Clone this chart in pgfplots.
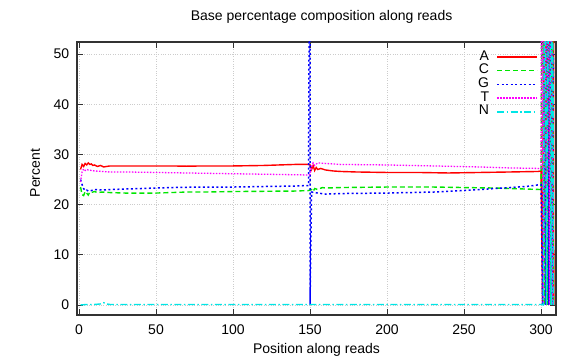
\documentclass[border=0pt]{standalone}
\usepackage{pgfplots}
\pgfplotsset{compat=1.18}
\usepackage{fontspec}
\setmainfont{Liberation Sans}
\definecolor{cA}{RGB}{255,0,0}
\definecolor{cC}{RGB}{0,230,0}
\definecolor{cG}{RGB}{0,0,255}
\definecolor{cT}{RGB}{255,0,255}
\definecolor{cN}{RGB}{0,230,230}
\begin{document}
\fontsize{14bp}{16bp}\selectfont
\begin{tikzpicture}
\useasboundingbox (-77bp,-45bp) rectangle (499bp,315bp);
\begin{axis}[
  at={(0,0)}, anchor=south west,
  scale only axis, width=479bp, height=273bp,
  xmin=-1.3, xmax=309.7, ymin=-2, ymax=52.4,
  xtick={0,50,...,300}, ytick={0,10,...,50},
  /pgf/number format/assume math mode=true,
  tick align=inside, major tick length=6bp,
  tick style={black!80, line width=0.8bp},
  axis line style={black!80, line width=1.2bp},
  grid=major, major grid style={gray!40, dotted, line width=0.6bp},
  xticklabel style={yshift=-5bp},
  yticklabel style={xshift=-3bp},
  title={Base percentage composition along reads},
  title style={at={(axis description cs:0,1)}, anchor=base west, xshift=109bp, yshift=15.7bp},
  xlabel={Position along reads},
  xlabel style={at={(axis description cs:0.5,0)}, anchor=base, yshift=-38bp},
  ylabel={Percent},
  ylabel style={at={(axis description cs:0,0.52)}, anchor=base, yshift=37bp},
  legend plot pos=right,
  legend cell align=right,
  legend style={at={(axis description cs:1,1)}, anchor=north east, xshift=-18bp, yshift=-8bp,
     draw=none, fill=none, inner sep=0pt, row sep=0pt,
     nodes={inner sep=0pt, text height=10bp, text depth=3.7bp}},
  legend image code/.code={\path[draw=none,fill=none] (0bp,0bp); \draw[#1] (8bp,0bp) -- (48bp,0bp);},
]
\addplot[cA, line width=1.4bp] coordinates {
(1,27.0)(2,28.0)(3,27.6)(4,28.2)(5,27.9)(6,28.3)(7,28.0)(8,28.1)(9,27.8)(10,27.9)
(12,27.6)(14,27.8)(16,27.5)(18,27.6)(20,27.7)(30,27.7)(40,27.7)(50,27.7)(60,27.7)
(70,27.65)(80,27.7)(90,27.7)(100,27.7)(110,27.75)(120,27.8)(130,27.9)(140,28.0)(149,28.0)
(150,27.9)(151,27.0)(152,27.8)(153,26.8)(154,27.4)(155,27.0)(157,27.2)(160,26.9)(165,26.7)
(170,26.6)(180,26.5)(200,26.4)(220,26.4)(240,26.3)(260,26.4)(280,26.5)(298,26.6)(300,26.7)
(301,0)(302,100)(303,0)(304,100)(305,0)(306,100)(307,0)(308,100)(308.3,0)
};
\addlegendentry{A}
\addplot[cC, line width=1.4bp, dash pattern=on 5bp off 3bp] coordinates {
(1,23.5)(2,22.0)(3,21.8)(4,22.6)(5,22.3)(6,21.9)(7,22.5)(8,22.4)(10,22.6)(12,22.4)
(15,22.5)(20,22.4)(30,22.3)(40,22.3)(50,22.3)(60,22.4)(70,22.5)(80,22.5)(90,22.55)
(100,22.6)(120,22.65)(140,22.7)(149,22.8)(150,22.9)(151,23.0)(152,22.6)(153,23.2)
(155,23.0)(158,23.4)(160,23.3)(170,23.4)(200,23.5)(230,23.5)(250,23.4)(270,23.3)
(290,23.1)(300,23.0)
(301,100)(302,0)(303,100)(304,0)(305,100)(306,0)(307,100)(308,0)
};
\addlegendentry{C}
\addplot[cG, line width=1.5bp, dash pattern=on 2bp off 2.5bp] coordinates {
(1,25.0)(2,24.0)(3,23.2)(4,22.8)(5,22.9)(6,22.7)(8,22.8)(10,23.0)(15,22.9)(20,23.0)
(30,23.1)(40,23.2)(50,23.3)(60,23.4)(80,23.5)(100,23.5)(120,23.6)(140,23.7)(149,23.8)
(150,100)(150,0)(151,22.5)(155,22.3)(160,22.1)(170,22.2)(200,22.3)(230,22.5)(250,22.8)
(270,23.2)(290,23.6)(300,24.0)
(301,0)(302,50)(303,0)(304,100)(305,0)(306,100)(307,0)(308,50)
};
\addlegendentry{G}
\addplot[cT, line width=1.3bp, dash pattern=on 1.5bp off 1.5bp] coordinates {
(1,24.5)(2,26.5)(3,27.1)(4,26.8)(5,27.0)(6,26.9)(8,26.8)(10,26.7)(15,26.6)(20,26.5)
(30,26.5)(50,26.4)(70,26.3)(90,26.2)(110,26.1)(130,26.0)(149,25.9)(150,26.0)(151,27.5)
(152,28.3)(153,27.8)(155,28.3)(160,28.2)(170,28.0)(200,27.9)(230,27.7)(260,27.5)
(280,27.3)(300,27.2)
(300.5,100)(301.5,0)(302.5,100)(303.5,0)(304.5,100)(305.5,0)(306.5,100)(307.5,0)
};
\addlegendentry{T}
\addplot[cN, line width=1.4bp, dash pattern=on 7bp off 2.5bp on 1.5bp off 2.5bp] coordinates {
(1,0.0)(5,0.1)(10,0.1)(14,0.2)(16,0.45)(18,0.2)(20,0.1)(50,0.1)(100,0.1)(150,0.1)
(200,0.1)(250,0.1)(300,0.1)
(301.5,0)(302.5,100)(303.5,0)(305.5,100)(306.5,0)(307.5,100)(308,0)
};
\addlegendentry{N}
\end{axis}
\end{tikzpicture}
\end{document}
